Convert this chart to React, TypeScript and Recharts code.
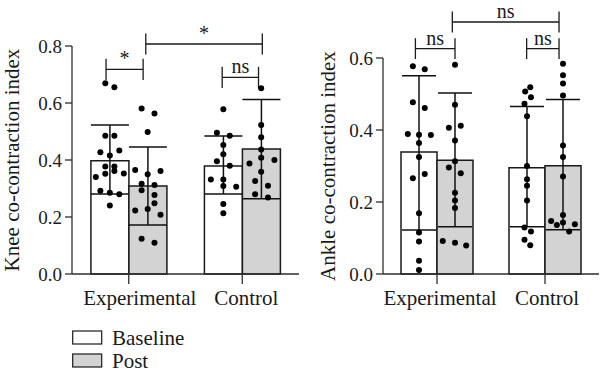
import React from 'react';
import { ComposedChart, Bar, XAxis, YAxis, Scatter, ErrorBar, ReferenceLine, Legend } from 'recharts';

const FONT = 'Liberation Serif, Tinos, DejaVu Serif, serif';
const INK = '#1a1a1a';
const AXIS = '#2e2e2e';
const POST_FILL = '#d3d3d3';

const groups = ['Experimental', 'Control'];
const seriesNames = ['Baseline', 'Post'];
const seriesFills = ['#ffffff', POST_FILL];

// ---------- Knee panel ----------
const kneeTicks = [0, 0.2, 0.4, 0.6, 0.8];
const kneeMeanBaseline = [0.397, 0.379];
const kneeLowBaseline = [0.281, 0.281];
const kneeHighBaseline = [0.523, 0.484];
const kneeMeanPost = [0.309, 0.439];
const kneeLowPost = [0.172, 0.264];
const kneeHighPost = [0.446, 0.612];

const kneeExpBaseline = [0.669, 0.655, 0.485, 0.485, 0.427, 0.416, 0.433, 0.377, 0.377, 0.34, 0.352, 0.361, 0.353, 0.292, 0.285, 0.28, 0.24];
const kneeExpBaselineJit = [-0.12, 0.12, -0.12, 0.12, -0.25, 0, 0.25, -0.12, 0.12, -0.37, -0.12, 0.12, 0.37, -0.25, 0, 0.25, 0];
const kneeExpPost = [0.581, 0.563, 0.498, 0.365, 0.35, 0.361, 0.317, 0.312, 0.294, 0.277, 0.248, 0.223, 0.228, 0.208, 0.124, 0.11];
const kneeExpPostJit = [-0.16, 0.18, 0, -0.33, 0, 0.34, -0.16, 0.18, -0.16, 0.18, 0.18, -0.33, 0, 0.34, -0.16, 0.18];
const kneeCtrlBaseline = [0.578, 0.496, 0.485, 0.453, 0.42, 0.396, 0.38, 0.332, 0.332, 0.309, 0.306, 0.246, 0.213];
const kneeCtrlBaselineJit = [0, -0.17, 0.17, 0, 0, -0.17, 0.17, -0.33, 0, 0, 0.34, 0, 0];
const kneeCtrlPost = [0.652, 0.523, 0.48, 0.437, 0.408, 0.388, 0.4, 0.359, 0.326, 0.31, 0.28, 0.268];
const kneeCtrlPostJit = [0, 0, 0, 0, 0, -0.31, 0.35, 0, -0.16, 0.18, -0.16, 0.18];

const kneeBrackets = [
  { from: 0.9, to: 1.88, y: 0.718, text: '*' },
  { from: 1.95, to: 5.03, y: 0.807, text: '*' },
  { from: 3.97, to: 4.93, y: 0.69, text: 'ns' },
];
const kneeLabelShift = [11, 4];

// ---------- Ankle panel ----------
const ankleTicks = [0, 0.2, 0.4, 0.6];
const ankleMeanBaseline = [0.339, 0.295];
const ankleLowBaseline = [0.122, 0.131];
const ankleHighBaseline = [0.551, 0.465];
const ankleMeanPost = [0.316, 0.301];
const ankleLowPost = [0.131, 0.123];
const ankleHighPost = [0.503, 0.485];

const ankleExpBaseline = [0.577, 0.569, 0.477, 0.461, 0.389, 0.387, 0.386, 0.364, 0.325, 0.266, 0.278, 0.169, 0.115, 0.09, 0.037, 0.011];
const ankleExpBaselineJit = [-0.17, 0.16, -0.17, 0.16, -0.31, 0, 0.33, 0, 0, -0.17, 0.16, 0, 0, 0, 0, 0];
const ankleExpPost = [0.581, 0.47, 0.406, 0.412, 0.371, 0.313, 0.296, 0.28, 0.226, 0.204, 0.183, 0.092, 0.087, 0.079];
const ankleExpPostJit = [0, 0, -0.17, 0.16, 0, 0, -0.17, 0.16, 0, 0, 0, -0.34, 0, 0.31];
const ankleCtrlBaseline = [0.519, 0.507, 0.491, 0.473, 0.438, 0.3, 0.263, 0.245, 0.204, 0.129, 0.118, 0.095, 0.08];
const ankleCtrlBaselineJit = [0.09, -0.05, 0.11, -0.07, 0, 0, 0, 0, 0, -0.07, 0.11, -0.07, 0.09];
const ankleCtrlPost = [0.584, 0.552, 0.529, 0.496, 0.357, 0.325, 0.271, 0.164, 0.147, 0.143, 0.136, 0.138, 0.118];
const ankleCtrlPostJit = [0, 0, 0, 0, 0, 0, 0, 0, -0.33, 0, -0.17, 0.33, 0.17];

const ankleBrackets = [
  { from: 0.9, to: 2.0, y: 0.626, text: 'ns' },
  { from: 1.925, to: 4.89, y: 0.7, text: 'ns' },
  { from: 3.99, to: 4.89, y: 0.626, text: 'ns' },
];
const ankleLabelShift = [3, 2];

// ---------- builders ----------
function buildBars(mB: number[], lB: number[], hB: number[], mP: number[], lP: number[], hP: number[]) {
  return groups.map((g, i) => ({
    group: g,
    baseline: mB[i],
    baselineErr: [mB[i] - lB[i], hB[i] - mB[i]],
    post: mP[i],
    postErr: [mP[i] - lP[i], hP[i] - mP[i]],
  }));
}

type PtSet = { vals: number[]; jit: number[] };
function buildPoints(sets: PtSet[][]) {
  const out: { x: number; y: number }[] = [];
  // each category occupies 3 units on the hidden numeric axis; bars are centred at +1 and +2
  sets.forEach((grp, gi) =>
    grp.forEach((s, si) =>
      s.vals.forEach((v, k) => out.push({ x: gi * 3 + 1 + si + s.jit[k], y: v }))
    )
  );
  return out;
}

const kneeBars = buildBars(kneeMeanBaseline, kneeLowBaseline, kneeHighBaseline, kneeMeanPost, kneeLowPost, kneeHighPost);
const ankleBars = buildBars(ankleMeanBaseline, ankleLowBaseline, ankleHighBaseline, ankleMeanPost, ankleLowPost, ankleHighPost);
const kneePoints = buildPoints([
  [{ vals: kneeExpBaseline, jit: kneeExpBaselineJit }, { vals: kneeExpPost, jit: kneeExpPostJit }],
  [{ vals: kneeCtrlBaseline, jit: kneeCtrlBaselineJit }, { vals: kneeCtrlPost, jit: kneeCtrlPostJit }],
]);
const anklePoints = buildPoints([
  [{ vals: ankleExpBaseline, jit: ankleExpBaselineJit }, { vals: ankleExpPost, jit: ankleExpPostJit }],
  [{ vals: ankleCtrlBaseline, jit: ankleCtrlBaselineJit }, { vals: ankleCtrlPost, jit: ankleCtrlPostJit }],
]);

const textStyle = { fontFamily: FONT };

const Dot = (p: any) => <circle cx={p.cx} cy={p.cy} r={3} fill="#000" />;

const AxisTitle = (props: any) => {
  const { viewBox, text, baselineX } = props;
  const cy = viewBox.y + viewBox.height / 2;
  return (
    <text
      x={baselineX}
      y={cy}
      transform={`rotate(-90 ${baselineX} ${cy})`}
      textAnchor="middle"
      fontSize={21}
      fill={INK}
      style={textStyle}
    >
      {text}
    </text>
  );
};

const makeCategoryTick = (shifts: number[]) => (props: any) => {
  const { x, y, payload, index } = props;
  return (
    <text x={x + (shifts[index] || 0)} y={y} dy="0.71em" textAnchor="middle" fontSize={21} fill={INK} style={textStyle}>
      {payload.value}
    </text>
  );
};

const LegendBox = () => (
  <svg width={200} height={46} style={{ display: 'block', overflow: 'visible' }}>
    {seriesNames.map((n, i) => (
      <g key={n}>
        <rect x={0.7} y={2 + i * 23} width={29} height={13} fill={seriesFills[i]} stroke={INK} strokeWidth={1.2} />
        <text x={40} y={15.5 + i * 23} fontSize={21} fill={INK} style={textStyle}>
          {n}
        </text>
      </g>
    ))}
  </svg>
);

type PanelProps = {
  bars: any[];
  points: { x: number; y: number }[];
  brackets: { from: number; to: number; y: number; text: string }[];
  ticks: number[];
  yLabel: string;
  margin: { top: number; right: number; bottom: number; left: number };
  titleX: number;
  capWidth: number;
  leg: number;
  labelShift: number[];
  showLegend?: boolean;
};

function Panel({ bars, points, brackets, ticks, yLabel, margin, titleX, capWidth, leg, labelShift, showLegend }: PanelProps) {
  const lineStyle = { stroke: AXIS, strokeWidth: 1.3 };
  return (
    <ComposedChart width={300} height={374} data={bars} margin={margin} barCategoryGap="16.667%" barGap={0} style={textStyle}>
      <XAxis
        dataKey="group"
        type="category"
        interval={0}
        height={40}
        tickSize={10}
        tickMargin={6}
        axisLine={lineStyle}
        tickLine={lineStyle}
        tick={makeCategoryTick(labelShift)}
      />
      <XAxis xAxisId="n" dataKey="x" type="number" domain={[0, 6]} allowDataOverflow hide />
      <YAxis
        type="number"
        domain={[0, ticks[ticks.length - 1]]}
        ticks={ticks}
        interval={0}
        width={60}
        tickSize={7}
        tickMargin={3}
        axisLine={lineStyle}
        tickLine={lineStyle}
        tickFormatter={(v: number) => v.toFixed(1)}
        tick={{ fill: INK, fontSize: 19, style: textStyle }}
        label={<AxisTitle text={yLabel} baselineX={titleX} />}
      />
      <Bar dataKey="baseline" name={seriesNames[0]} fill={seriesFills[0]} stroke={INK} strokeWidth={1.5} isAnimationActive={false}>
        <ErrorBar dataKey="baselineErr" width={capWidth} stroke="#111" strokeWidth={1.5} direction="y" />
      </Bar>
      <Bar dataKey="post" name={seriesNames[1]} fill={seriesFills[1]} stroke={INK} strokeWidth={1.5} isAnimationActive={false}>
        <ErrorBar dataKey="postErr" width={capWidth} stroke="#111" strokeWidth={1.5} direction="y" />
      </Bar>
      <Scatter xAxisId="n" data={points} dataKey="y" shape={Dot} isAnimationActive={false} legendType="none" />
      {brackets.map((b, i) => (
        <ReferenceLine
          key={`h${i}`}
          xAxisId="n"
          ifOverflow="visible"
          segment={[{ x: b.from, y: b.y }, { x: b.to, y: b.y }]}
          stroke={INK}
          strokeWidth={1.3}
          label={{ value: b.text, position: 'top', offset: 4, fill: INK, fontSize: 20, style: textStyle }}
        />
      ))}
      {brackets.map((b, i) => (
        <ReferenceLine
          key={`l${i}`}
          xAxisId="n"
          ifOverflow="visible"
          segment={[{ x: b.from, y: b.y - leg }, { x: b.from, y: b.y + leg }]}
          stroke={INK}
          strokeWidth={1.3}
        />
      ))}
      {brackets.map((b, i) => (
        <ReferenceLine
          key={`r${i}`}
          xAxisId="n"
          ifOverflow="visible"
          segment={[{ x: b.to, y: b.y - leg }, { x: b.to, y: b.y + leg }]}
          stroke={INK}
          strokeWidth={1.3}
        />
      ))}
      {showLegend && (
        <Legend
          layout="vertical"
          align="center"
          verticalAlign="middle"
          content={() => <LegendBox />}
          wrapperStyle={{ left: 72, top: 329, width: 200, height: 46, overflow: 'visible' }}
        />
      )}
    </ComposedChart>
  );
}

export default function App() {
  return (
    <div style={{ position: 'absolute', left: 0, top: 0, width: 600, height: 374, background: '#fff', fontFamily: FONT }}>
      <div style={{ position: 'absolute', left: 0, top: 0 }}>
        <Panel
          bars={kneeBars}
          points={kneePoints}
          brackets={kneeBrackets}
          ticks={kneeTicks}
          yLabel="Knee co-contraction index"
          margin={{ top: 46, right: 1, bottom: 60, left: 12 }}
          titleX={19}
          capWidth={19}
          leg={0.037}
          labelShift={kneeLabelShift}
          showLegend
        />
      </div>
      <div style={{ position: 'absolute', left: 300, top: 0 }}>
        <Panel
          bars={ankleBars}
          points={anklePoints}
          brackets={ankleBrackets}
          ticks={ankleTicks}
          yLabel="Ankle co-contraction index"
          margin={{ top: 58, right: 1, bottom: 60, left: 23 }}
          titleX={35}
          capWidth={17}
          leg={0.029}
          labelShift={ankleLabelShift}
        />
      </div>
    </div>
  );
}
